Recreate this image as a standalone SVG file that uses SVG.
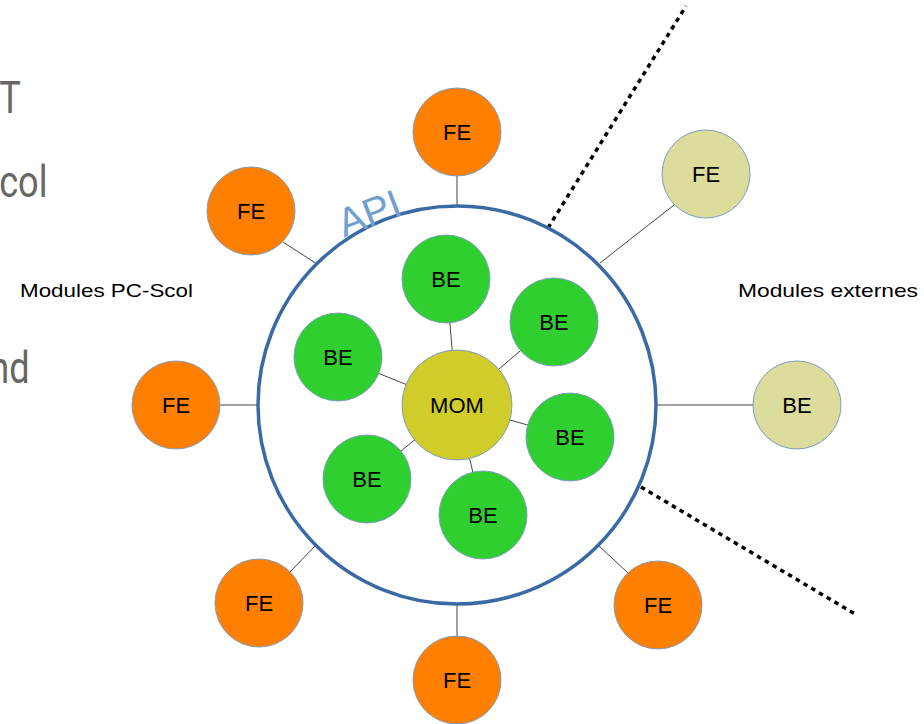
<svg xmlns="http://www.w3.org/2000/svg" width="924" height="724" viewBox="0 0 924 724">
<style>
.n{stroke:#7f9cc0;stroke-width:1}
.fe{fill:#ff8000}
.be{fill:#2ecf2e}
.ext{fill:#dcdc9c}
.mom{fill:#d0cc2a}
.t{font-family:"Liberation Sans",Arial,sans-serif;font-size:22px;fill:#000;text-anchor:middle;dominant-baseline:central}
.lbl{font-family:"Liberation Sans",Arial,sans-serif;font-size:19px;fill:#000}
.side{font-family:Roboto,"Liberation Sans",sans-serif;font-size:44px;fill:#666}
.c{stroke:#444;stroke-width:1;fill:none}
.dot{stroke:#000;stroke-width:3.5;stroke-dasharray:4.5,4.5;fill:none}
</style>
<rect width="924" height="724" fill="#fff"/>
<g id="side-text">
<text class="side" x="-1" y="113" transform="scale(0.82,1)">T</text>
<text class="side" x="-1" y="197" transform="scale(0.82,1)">col</text>
<text class="side" x="-13" y="383" transform="scale(0.82,1)">nd</text>
</g>
<g id="labels">
<text class="lbl" x="20" y="297" textLength="173" lengthAdjust="spacingAndGlyphs">Modules PC-Scol</text>
<text class="lbl" x="738" y="297" textLength="180" lengthAdjust="spacingAndGlyphs">Modules externes</text>
</g>
<g id="connectors">
<line class="dot" x1="548" y1="228" x2="686" y2="6"/>
<line class="dot" x1="641" y1="487" x2="855" y2="614"/>
<line class="c" x1="457" y1="176" x2="457" y2="206"/>
<line class="c" x1="283" y1="242" x2="317" y2="264"/>
<line class="c" x1="220" y1="405" x2="258" y2="405"/>
<line class="c" x1="290" y1="572" x2="316" y2="545"/>
<line class="c" x1="457" y1="636" x2="457" y2="604"/>
<line class="c" x1="628" y1="573" x2="598" y2="545"/>
<line class="c" x1="674" y1="205" x2="600" y2="263"/>
<line class="c" x1="656" y1="405" x2="753" y2="405"/>
<line class="c" x1="457" y1="405" x2="446" y2="279"/>
<line class="c" x1="457" y1="405" x2="554" y2="322"/>
<line class="c" x1="457" y1="405" x2="338" y2="357"/>
<line class="c" x1="457" y1="405" x2="570" y2="437"/>
<line class="c" x1="457" y1="405" x2="367" y2="479"/>
<line class="c" x1="457" y1="405" x2="483" y2="515"/>
</g>
<g id="api">
<circle cx="457" cy="405" r="199" fill="none" stroke="#3a6aa6" stroke-width="3.5"/>
<text x="374" y="226" transform="rotate(-21 374 226)" font-family="Liberation Sans,Arial,sans-serif" font-size="40" fill="#729fcf" text-anchor="middle">API</text>
</g>
<g id="be1"><circle class="n be" cx="446" cy="279" r="44"/><text class="t" x="446" y="279">BE</text></g>
<g id="be2"><circle class="n be" cx="554" cy="322" r="44"/><text class="t" x="554" y="322">BE</text></g>
<g id="be3"><circle class="n be" cx="338" cy="357" r="44"/><text class="t" x="338" y="357">BE</text></g>
<g id="be4"><circle class="n be" cx="570" cy="437" r="44"/><text class="t" x="570" y="437">BE</text></g>
<g id="be5"><circle class="n be" cx="367" cy="479" r="44"/><text class="t" x="367" y="479">BE</text></g>
<g id="be6"><circle class="n be" cx="483" cy="515" r="44"/><text class="t" x="483" y="515">BE</text></g>
<g id="mom"><circle class="n mom" cx="457" cy="405" r="55"/><text class="t" x="457" y="405">MOM</text></g>
<g id="fe1"><circle class="n fe" cx="457" cy="132" r="44"/><text class="t" x="457" y="132">FE</text></g>
<g id="fe2"><circle class="n fe" cx="251" cy="211" r="44"/><text class="t" x="251" y="211">FE</text></g>
<g id="fe3"><circle class="n fe" cx="176" cy="405" r="44"/><text class="t" x="176" y="405">FE</text></g>
<g id="fe4"><circle class="n fe" cx="259" cy="603" r="44"/><text class="t" x="259" y="603">FE</text></g>
<g id="fe5"><circle class="n fe" cx="457" cy="680" r="44"/><text class="t" x="457" y="680">FE</text></g>
<g id="fe6"><circle class="n fe" cx="658" cy="605" r="44"/><text class="t" x="658" y="605">FE</text></g>
<g id="ext-fe"><circle class="n ext" cx="706" cy="174" r="44"/><text class="t" x="706" y="174">FE</text></g>
<g id="ext-be"><circle class="n ext" cx="797" cy="405" r="44"/><text class="t" x="797" y="405">BE</text></g>
</svg>
